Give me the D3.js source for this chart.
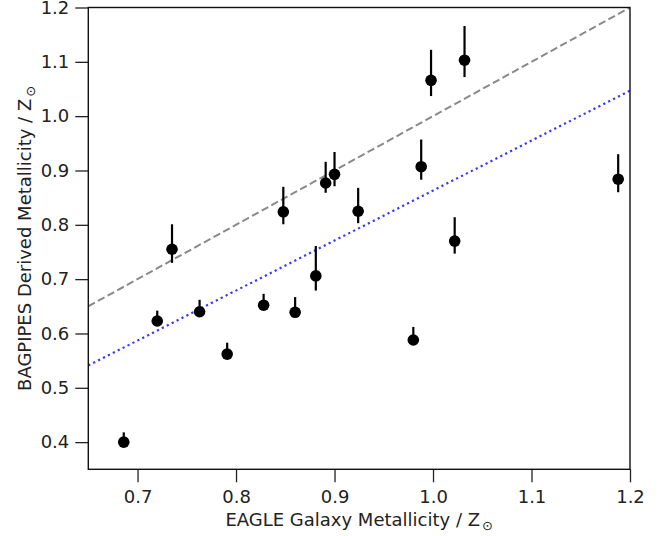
<!DOCTYPE html>
<html>
<head>
<meta charset="utf-8">
<script src="https://cdn.jsdelivr.net/npm/d3@7"></script>
<style>
  body { margin: 0; background: #fff; }
  svg { display: block; font-family: "DejaVu Sans", sans-serif; }
</style>
</head>
<body>
<div class="chart"></div>
<script>
// EAGLE vs BAGPIPES metallicities (in solar units)
const eagleZ   = [0.686, 0.720, 0.735, 0.763, 0.791, 0.828, 0.860, 0.881, 0.848,
                  0.891, 0.900, 0.924, 0.998, 1.032, 0.988, 1.188, 1.022, 0.980];
const pipesZ   = [0.400, 0.623, 0.755, 0.640, 0.562, 0.652, 0.639, 0.706, 0.824,
                  0.877, 0.893, 0.825, 1.066, 1.103, 0.907, 0.884, 0.770, 0.588];
const errUp    = [0.018, 0.019, 0.046, 0.022, 0.021, 0.021, 0.028, 0.055, 0.046,
                  0.039, 0.041, 0.043, 0.056, 0.063, 0.050, 0.046, 0.044, 0.024];
const errDown  = [0.005, 0.005, 0.025, 0.005, 0.005, 0.005, 0.005, 0.027, 0.023,
                  0.018, 0.022, 0.022, 0.029, 0.031, 0.024, 0.024, 0.023, 0.005];

const xTicks = [0.7, 0.8, 0.9, 1.0, 1.1, 1.2];
const yTicks = [0.4, 0.5, 0.6, 0.7, 0.8, 0.9, 1.0, 1.1, 1.2];

// one-to-one line and the dotted fit line (end points)
const oneToOne = [[0.65, 0.65], [1.2, 1.2]];
const fitLine  = [[0.65, 0.541], [1.2, 1.047]];

let margin = { top: 7.5, right: 40, bottom: 66.7, left: 88.3 },
    width = 670 - margin.left - margin.right,
    height = 536 - margin.top - margin.bottom;

let x = d3.scaleLinear().domain([0.65, 1.2]).range([0, width]);
let y = d3.scaleLinear().domain([0.35, 1.2]).range([height, 0]);

let svg = d3.select('.chart').append('svg')
    .attr('width', 670)
    .attr('height', 536);

let g = svg.append('g')
    .attr('transform', 'translate(' + margin.left + ',' + margin.top + ')');

g.append('clipPath').attr('id', 'clip')
    .append('rect').attr('width', width).attr('height', height);

let line = d3.line().x(d => x(d[0])).y(d => y(d[1]));

g.append('path')
    .datum(oneToOne)
    .attr('d', line)
    .attr('clip-path', 'url(#clip)')
    .style('fill', 'none')
    .style('stroke', '#8a8a8a')
    .style('stroke-width', 2)
    .style('stroke-dasharray', '7.5,3.5');

g.append('path')
    .datum(fitLine)
    .attr('d', line)
    .attr('clip-path', 'url(#clip)')
    .style('fill', 'none')
    .style('stroke', '#3838ff')
    .style('stroke-width', 2.2)
    .style('stroke-dasharray', '2.2,3.3');

let pts = eagleZ.map((v, i) => ({ x: v, y: pipesZ[i], up: errUp[i], down: errDown[i] }));

// error bars
g.selectAll('.err')
    .data(pts)
    .enter().append('line')
    .attr('class', 'err')
    .attr('x1', d => x(d.x))
    .attr('x2', d => x(d.x))
    .attr('y1', d => y(d.y + d.up))
    .attr('y2', d => y(d.y - d.down))
    .style('stroke', 'black')
    .style('stroke-width', 2.2);

// points
g.selectAll('.dot')
    .data(pts)
    .enter().append('circle')
    .attr('class', 'dot')
    .attr('cx', d => x(d.x))
    .attr('cy', d => y(d.y))
    .attr('r', 5.8)
    .style('fill', 'black');

// axes
let xAxis = d3.axisBottom(x).tickValues(xTicks).tickFormat(d3.format('.1f')).tickSize(13).tickPadding(7.5);
let yAxis = d3.axisLeft(y).tickValues(yTicks).tickFormat(d3.format('.1f')).tickSize(13).tickPadding(6);

let gx = g.append('g')
    .attr('transform', 'translate(0,' + height + ')')
    .call(xAxis);
let gy = g.append('g').call(yAxis);

[gx, gy].forEach(a => {
    a.select('.domain').remove();
    a.selectAll('line').style('stroke', '#222').style('stroke-width', 1.3);
    a.selectAll('text').style('font-size', '18px').style('fill', '#222')
        .style('font-family', '"DejaVu Sans", sans-serif');
});

// frame
g.append('rect')
    .attr('width', width)
    .attr('height', height)
    .style('fill', 'none')
    .style('stroke', '#111')
    .style('stroke-width', 1.4);

// axis titles
let xt = svg.append('text')
    .attr('text-anchor', 'middle')
    .attr('x', margin.left + width / 2)
    .attr('y', 526)
    .style('font-size', '18px')
    .style('fill', '#222');
xt.append('tspan').text('EAGLE Galaxy Metallicity / Z');
xt.append('tspan').attr('dy', 4).attr('dx', 2).style('font-size', '13px').text('\u2299');

let yt = svg.append('text')
    .attr('text-anchor', 'middle')
    .attr('transform', 'translate(30.5,' + (margin.top + height / 2) + ')rotate(-90)')
    .style('font-size', '18px')
    .style('fill', '#222');
yt.append('tspan').text('BAGPIPES Derived Metallicity / Z');
yt.append('tspan').attr('dy', 4).attr('dx', 2).style('font-size', '13px').text('\u2299');
</script>
</body>
</html>
